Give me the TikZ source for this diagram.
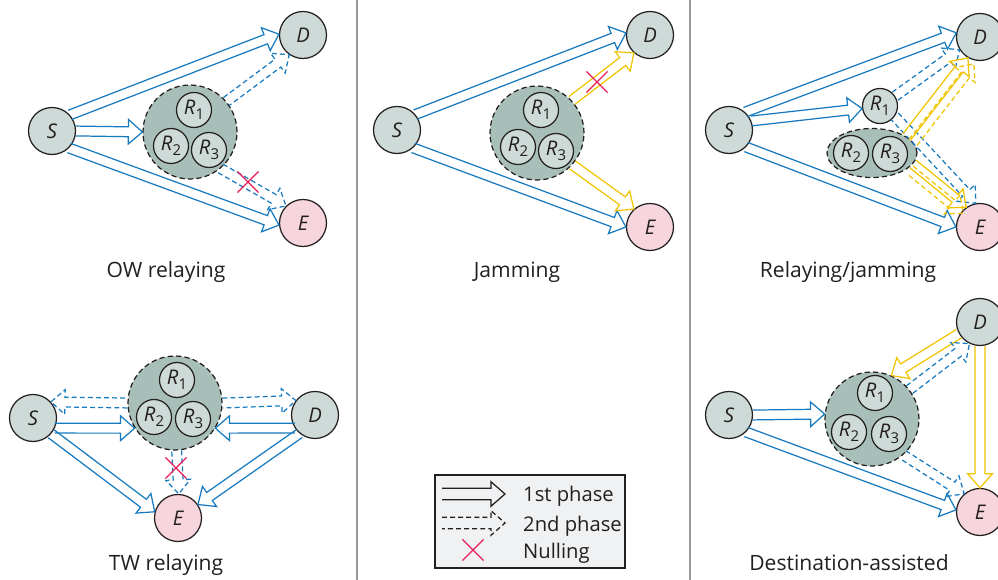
\documentclass[tikz,border=0pt]{standalone}
\usepackage{fontspec}
\setmainfont{Open Sans}
\usetikzlibrary{calc,shapes.geometric,shapes.misc}

\definecolor{linkblue}{RGB}{22,122,192}
\definecolor{jamyellow}{RGB}{240,196,0}
\definecolor{nullred}{RGB}{232,30,90}
\definecolor{nodegray}{RGB}{206,218,215}
\definecolor{evepink}{RGB}{247,213,221}
\definecolor{relaygreen}{RGB}{168,191,185}
\definecolor{legendgray}{RGB}{240,241,242}
\definecolor{textgray}{RGB}{35,31,32}

\newcommand{\rsub}[1]{\raisebox{-0.45ex}{\upshape\fontsize{8.5}{8.5}\selectfont #1}}

\tikzset{
  arrow shaft/.store in=\arrshaft, arrow shaft=2.8pt,
  arrow head/.store in=\arrhead, arrow head=7pt,
  arrow len/.store in=\arrlen, arrow len=8pt,
  hollow/.style={line width=0.7pt, to path={
      ($(\tikztostart)!\arrshaft!90:(\tikztotarget)$)
      -- ($(\tikztotarget)!\arrlen!(\tikztostart)!\arrshaft!90:(\tikztotarget)$)
      -- ($(\tikztotarget)!\arrlen!(\tikztostart)!\arrhead!90:(\tikztotarget)$)
      -- (\tikztotarget)
      -- ($(\tikztotarget)!\arrlen!(\tikztostart)!\arrhead!-90:(\tikztotarget)$)
      -- ($(\tikztotarget)!\arrlen!(\tikztostart)!\arrshaft!-90:(\tikztotarget)$)
      -- ($(\tikztostart)!\arrshaft!-90:(\tikztotarget)$)}},
  first/.style={hollow, draw=linkblue},
  second/.style={hollow, draw=linkblue, dash pattern=on 2.8pt off 1.8pt},
  jam/.style={hollow, draw=jamyellow},
  jamsecond/.style={hollow, draw=jamyellow, dash pattern=on 2.8pt off 1.8pt},
  terminal/.style={circle, draw=textgray, line width=0.7pt, fill=nodegray,
    minimum size=0.94cm, inner sep=0pt, text=textgray,
    font=\itshape\fontsize{11.5}{11.5}\selectfont},
  eve/.style={terminal, fill=evepink},
  relay/.style={terminal, minimum size=0.7cm},
  cluster/.style={circle, draw=textgray, dash pattern=on 3pt off 1.8pt,
    line width=0.7pt, fill=relaygreen, minimum size=1.88cm},
  pair/.style={cluster, ellipse, minimum width=1.8cm, minimum height=0.98cm},
  nulling/.style={cross out, draw=nullred, line width=0.7pt,
    minimum size=0.4cm, inner sep=0pt},
  caption/.style={anchor=base, text=textgray, font=\fontsize{12}{14}\selectfont},
  legendtext/.style={anchor=base west, text=textgray, font=\fontsize{11.5}{13}\selectfont},
  divider/.style={draw=black!40, line width=0.8pt},
}

\begin{document}
\begin{tikzpicture}[x=0.02cm, y=-0.02cm]
  \path[use as bounding box, fill=white] (0,0) rectangle (998,580);
  \draw[divider] (357,0) -- (357,580);
  \draw[divider] (690,0) -- (690,580);

  % OW relaying
  \node[cluster] (C1) at (190,132) {};
  \node[relay] (R11) at (194,110) {R\rsub{1}};
  \node[relay] (R12) at (171,146) {R\rsub{2}};
  \node[relay] (R13) at (209,150) {R\rsub{3}};
  \node[terminal] (S1) at (52,131) {S};
  \node[terminal] (D1) at (303,35) {D};
  \node[eve] (E1) at (303,223) {E};
  \draw[first] (S1.42) to (D1.178);
  \draw[first] (S1.-45) to (E1.185);
  \draw[first] (S1.east) to (C1.180);
  \draw[second] (C1.40) to (D1.235);
  \draw[second] (C1.-50) to (E1.135);
  \node[nulling] (x1) at (248,182) {};
  \node[caption] (cap1) at (166,278) {OW relaying};

  % Jamming
  \node[cluster] (C2) at (537,133) {};
  \node[relay] (R21) at (541,110) {R\rsub{1}};
  \node[relay] (R22) at (518,147) {R\rsub{2}};
  \node[relay] (R23) at (556,151) {R\rsub{3}};
  \node[terminal] (S2) at (397,130) {S};
  \node[terminal] (D2) at (650,35) {D};
  \node[eve] (E2) at (650,227) {E};
  \draw[first] (S2.40) to (D2.175);
  \draw[first] (S2.-48) to (E2.180);
  \draw[jam] (C2.43) to (D2.228);
  \draw[jam] (C2.-42) to (E2.132);
  \node[nulling] (x2) at (597,82) {};
  \node[caption] (cap2) at (517,278) {Jamming};

  % Relaying/jamming
  \node[pair] (C3) at (872,153) {};
  \node[relay] (R32) at (851,153) {R\rsub{2}};
  \node[relay] (R33) at (890,154) {R\rsub{3}};
  \node[relay] (R31) at (880,106) {R\rsub{1}};
  \node[terminal] (S3) at (729,130) {S};
  \node[terminal] (D3) at (980,37) {D};
  \node[eve] (E3) at (980,227) {E};
  \draw[first] (S3.48) to (D3.170);
  \draw[first] (S3.22) to (R31.188);
  \draw[first] (S3.-45) to (E3.180);
  \draw[second] (R31.33) to (D3.212);
  \draw[second] (R31.-35) to (E3.100);
  \draw[jam] (C3.25) to (D3.240);
  \draw[jam] (C3.-15) to (E3.125);
  \coordinate (j3a) at ([shift={(6,6)}]C3.25);
  \coordinate (j3b) at ([shift={(6,6)}]D3.240);
  \coordinate (j3c) at ([shift={(-3,6)}]C3.-15);
  \coordinate (j3d) at ([shift={(-3,6)}]E3.125);
  \draw[jamsecond] (j3a) to (j3b);
  \draw[jamsecond] (j3c) to (j3d);
  \node[caption] (cap3) at (848,278) {Relaying/jamming};

  % TW relaying
  \node[cluster] (C4) at (175,403) {};
  \node[relay] (R41) at (177,380) {R\rsub{1}};
  \node[relay] (R42) at (154,417) {R\rsub{2}};
  \node[relay] (R43) at (193,419) {R\rsub{3}};
  \node[terminal] (S4) at (33,418) {S};
  \node[terminal] (D4) at (315,415) {D};
  \node[eve] (E4) at (178,518) {E};
  \draw[first] (S4.-25) to (C4.212);
  \draw[first] (D4.213) to (C4.-32);
  \draw[second] (C4.180) to (S4.42);
  \draw[second] (C4.0) to (D4.143);
  \draw[first] (S4.-41) to (E4.165);
  \draw[first] (D4.230) to (E4.34);
  \draw[second] (C4.-88) to (E4.88);
  \node[nulling] (x4) at (176,468) {};
  \node[caption] (cap4) at (166,571) {TW relaying};

  % Destination-assisted
  \node[cluster] (C5) at (872,419) {};
  \node[relay] (R51) at (875,393) {R\rsub{1}};
  \node[relay] (R52) at (849,432) {R\rsub{2}};
  \node[relay] (R53) at (889,434) {R\rsub{3}};
  \node[terminal] (S5) at (729,415) {S};
  \node[terminal] (D5) at (980,322) {D};
  \node[eve] (E5) at (980,512) {E};
  \draw[first] (S5.east) to (C5.174);
  \draw[first] (S5.-45) to (E5.175);
  \draw[jam] (D5.209) to (C5.66);
  \draw[second] (C5.38) to (D5.244);
  \draw[second] (C5.-49) to (E5.131);
  \draw[jam] (D5.-90) to (E5.90);
  \node[caption] (cap5) at (849,571) {Destination-assisted};

  % legend
  \node[draw=textgray, fill=legendgray, line width=0.7pt, minimum width=3.8cm,
    minimum height=1.86cm] (legend) at (530,521.5) {};
  \coordinate (k1a) at (442,494);
  \coordinate (k1b) at (505,494);
  \coordinate (k2a) at (442,523);
  \coordinate (k2b) at (505,523);
  \draw[hollow, draw=textgray, arrow shaft=3.3pt, arrow head=7pt] (k1a) to (k1b);
  \draw[hollow, draw=textgray, arrow shaft=3.3pt, arrow head=7pt,
    dash pattern=on 2.8pt off 1.8pt] (k2a) to (k2b);
  \node[nulling] (x5) at (473,550) {};
  \node[legendtext] (l1) at (517,502) {1st phase};
  \node[legendtext] (l2) at (517,532) {2nd phase};
  \node[legendtext] (l3) at (517,559) {Nulling};
\end{tikzpicture}
\end{document}
